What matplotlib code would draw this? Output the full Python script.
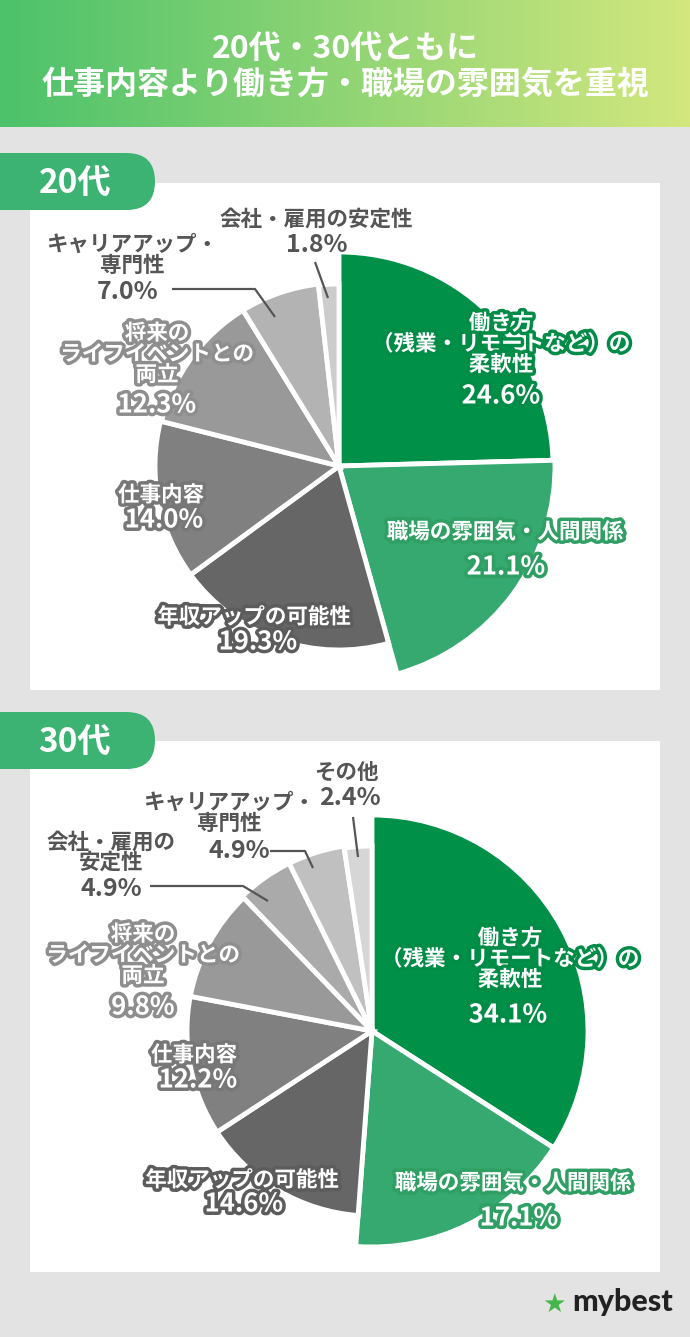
import numpy as np
import matplotlib
matplotlib.use('Agg')
import matplotlib.pyplot as plt
import matplotlib.patheffects as pe
from matplotlib.patches import Rectangle, FancyBboxPatch

plt.rcParams['font.family'] = ['Noto Sans CJK JP', 'DejaVu Sans']

# ------------------------------------------------------------
# DATA
# ------------------------------------------------------------
title_lines = ['20代・30代ともに', '仕事内容より働き方・職場の雰囲気を重視']

labels_20 = ['働き方\n（残業・リモートなど）の\n柔軟性', '職場の雰囲気・人間関係',
             '年収アップの可能性', '仕事内容', '将来の\nライフイベントとの\n両立',
             'キャリアアップ・\n専門性', '会社・雇用の安定性']
values_20 = [24.6, 21.1, 19.3, 14.0, 12.3, 7.0, 1.8]

labels_30 = ['働き方\n（残業・リモートなど）の\n柔軟性', '職場の雰囲気・人間関係',
             '年収アップの可能性', '仕事内容', '将来の\nライフイベントとの\n両立',
             '会社・雇用の\n安定性', 'キャリアアップ・\n専門性', 'その他']
values_30 = [34.1, 17.1, 14.6, 12.2, 9.8, 4.9, 4.9, 2.4]

colors_20 = ['#009048', '#35a96f', '#666666', '#808080', '#999999', '#b3b3b3', '#cccccc']
colors_30 = ['#009048', '#35a96f', '#666666', '#808080', '#999999', '#aaaaaa', '#c0c0c0', '#d6d6d6']

# ------------------------------------------------------------
# LAYOUT (pixel coords, y down)
# ------------------------------------------------------------
W, H = 690, 1337
BG = '#e3e3e3'
TAB = '#3cb273'
OUT_TXT = '#555555'
strokes_20 = ['#008c46', '#2f9f64', '#5c5c5c', '#777777', '#8e8e8e', None, None]
strokes_30 = ['#008c46', '#2f9f64', '#5c5c5c', '#777777', '#8e8e8e', None, None, None]

# (name x, name y, pct x, pct y)
pos_20 = [(501, 344, 501, 396), (505, 532, 506, 567), (254, 617, 258, 642),
          (161, 495, 164, 520), (157, 354, 157, 405), (132, 255, 128, 292),
          (316, 219, 317, 245)]
pos_30 = [(510, 959, 508, 1015), (513, 1183, 519, 1218), (242, 1180, 244, 1204),
          (194, 1055, 198, 1080), (143, 955, 143, 1007), (111, 852, 111, 889),
          (229, 813, 239, 851), (346, 772, 350, 798)]

radii_20 = [214, 216, 184, 184, 183, 183, 182]
radii_30 = [216, 216, 185, 185, 185, 187, 187, 185]

leaders_20 = [([172, 255, 275], [289, 289, 317]), ([315, 328], [262, 298])]
leaders_30 = [([150, 243, 268], [886, 886, 901]), ([270, 305, 313], [851, 851, 868]),
              ([353, 358], [817, 857])]

fig = plt.figure(figsize=(W / 100, H / 100), dpi=100)
fig.patch.set_facecolor(BG)

# background axes
bg = fig.add_axes([0, 0, 1, 1], zorder=0)
bg.axis('off')

# header gradient
c0 = np.array(matplotlib.colors.to_rgb('#4cc26b'))
c1 = np.array(matplotlib.colors.to_rgb('#d3e77e'))
t = np.linspace(0, 1, 256)[None, :, None]
grad = c0 + (c1 - c0) * t
bg.imshow(grad, extent=(0, W, 127, 0), aspect='auto', interpolation='bilinear')

for top, bottom, ttop in [(183, 690, 153), (741, 1272, 712)]:
    bg.add_patch(Rectangle((30, top), 630, bottom - top, facecolor='white', edgecolor='none'))
    bg.add_patch(FancyBboxPatch((-60, ttop), 215, 57, boxstyle='round,pad=0,rounding_size=28.5',
                                facecolor=TAB, edgecolor='none'))
bg.set_xlim(0, W)
bg.set_ylim(H, 0)


def draw_pie(cx, cy, values, colors, radii):
    half = 300
    ax = fig.add_axes([(cx - half) / W, (H - cy - half) / H, 2 * half / W, 2 * half / H], zorder=1)
    wedges, _ = ax.pie(values, colors=colors, startangle=90, counterclock=False, radius=1,
                       wedgeprops=dict(edgecolor='white', linewidth=3.5))
    for w, r in zip(wedges, radii):
        w.set_radius(r)
    ax.set_xlim(-half, half)
    ax.set_ylim(-half, half)
    ax.set_aspect('equal')
    ax.axis('off')
    return ax


draw_pie(339, 466, values_20, colors_20, radii_20)
draw_pie(372, 1031, values_30, colors_30, radii_30)

# overlay for texts
ov = fig.add_axes([0, 0, 1, 1], zorder=3)
ov.set_xlim(0, W)
ov.set_ylim(H, 0)
ov.axis('off')
ov.patch.set_alpha(0)

ov.text(345, 49, title_lines[0], ha='center', va='center', fontsize=23, weight='bold', color='white')
ov.text(345, 85, title_lines[1], ha='center', va='center', fontsize=23, weight='bold', color='white')
ov.text(75, 183, '20代', ha='center', va='center', fontsize=24, weight='bold', color='white')
ov.text(75, 742, '30代', ha='center', va='center', fontsize=24, weight='bold', color='white')


def draw_labels(labels, values, pos, strokes, leaders):
    for lab, v, (nx, ny, px, py), st in zip(labels, values, pos, strokes):
        if st is None:
            kw = dict(color=OUT_TXT, weight='bold')
            fs, pfs = 15.5, 18
        else:
            kw = dict(color='white', weight='bold',
                      path_effects=[pe.withStroke(linewidth=5, foreground=st)])
            fs, pfs = 15.5, 18.5
        ov.text(nx, ny, lab, ha='center', va='center', fontsize=fs, linespacing=0.98, **kw)
        ov.text(px, py, f'{v:.1f}%', ha='center', va='center', fontsize=pfs, **kw)
    for xs, ys in leaders:
        ov.plot(xs, ys, color=OUT_TXT, lw=1.6, solid_capstyle='butt')


draw_labels(labels_20, values_20, pos_20, strokes_20, leaders_20)
draw_labels(labels_30, values_30, pos_30, strokes_30, leaders_30)

# logo
ov.text(554, 1305, '★', ha='center', va='center', fontsize=19, color='#45b649', family='DejaVu Sans')
ov.text(673, 1302, 'mybest', ha='right', va='center', fontsize=22, weight='black', color='#222222',
        family='Lato')

fig.savefig('out.png', dpi=100, facecolor=BG)
